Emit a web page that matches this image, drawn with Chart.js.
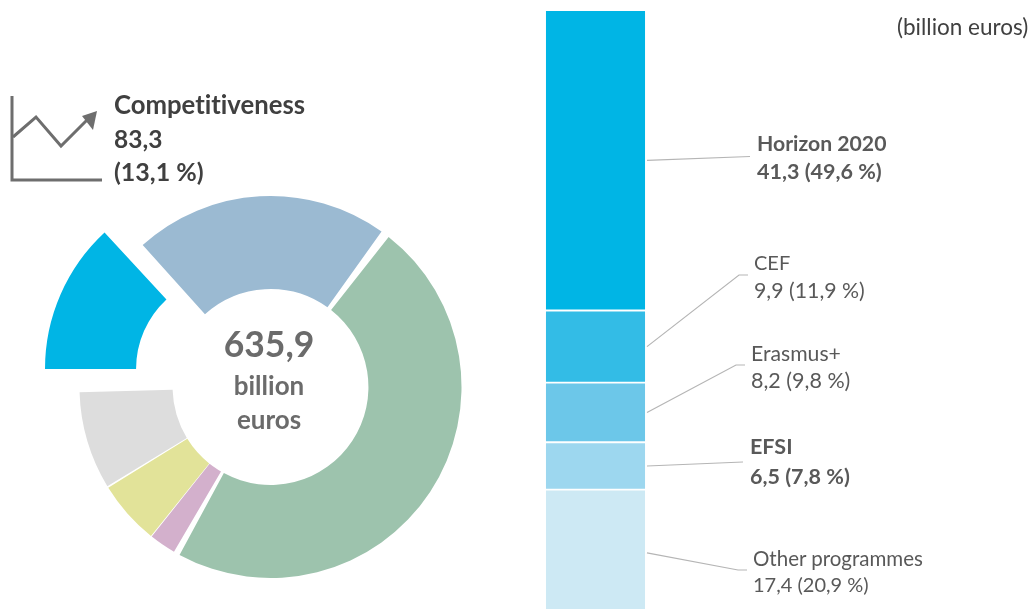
<!DOCTYPE html>
<html>
<head>
<meta charset="utf-8">
<title>Competitiveness</title>
<script src="https://cdn.jsdelivr.net/npm/chart.js@4/dist/chart.umd.js"></script>
<style>
html, body { margin: 0; padding: 0; background: #fff; width: 1030px; height: 609px; overflow: hidden; }
body { position: relative; font-family: Lato, "Open Sans", sans-serif; font-variant-ligatures: none; }
canvas { position: absolute; left: 0; top: 0; }
.t { position: absolute; white-space: nowrap; transform: translateY(-50%); line-height: 1; }
svg { position: absolute; left: 0; top: 0; }
</style>
</head>
<body>
<canvas id="bars"></canvas>
<canvas id="donut"></canvas>
<svg width="110" height="190">
  <polyline points="12,96 12,180 102,180" fill="none" stroke="#6e6e6e" stroke-width="3"/>
  <polyline points="13,137 36,117 61,146 90,117" fill="none" stroke="#6e6e6e" stroke-width="3"/>
  <polygon points="97,111 82,116 93,130" fill="#6e6e6e"/>
</svg>
<div id="labels"></div>

<script>
// headings: billion euros (only Competitiveness is printed)
const headingNames = ['Competitiveness', 'Cohesion', 'Natural resources', 'Security', 'Global', 'Administration'];
const headingValues = [83.3, 139.9, 307.1, 14.6, 35.0, 55.9];
const headingColors = ['#00b5e5', '#9bbad2', '#9dc3ad', '#d3b0cc', '#e2e399', '#dddddd'];

// breakdown of Competitiveness
const programmes = ['Horizon 2020', 'CEF', 'Erasmus+', 'EFSI', 'Other programmes'];
const programmeValues = [41.3, 9.9, 8.2, 6.5, 17.4];
const programmeColors = ['#00b5e5', '#33bce6', '#6cc7e9', '#9dd7ef', '#cde9f4'];

// where each leader goes after leaving its bar
const leaderEnds = [
    [[750, 156.5]],
    [[739, 275], [748, 275]],
    [[736, 365], [745, 365]],
    [[743, 462]],
    [[738, 570], [747, 570]]
];

const texts = [
    ['(billion euros)', 897, 27, 22.5, 400, '#404040'],
    ['Competitiveness', 114, 105, 25.7, 700, '#404040'],
    ['83,3', 114, 139, 24.5, 700, '#404040'],
    ['(13,1 %)', 114, 171, 25, 700, '#404040'],
    ['635,9', 269, 344, 35.5, 700, '#6b6b6b', true],
    ['billion', 269, 385, 26, 700, '#6b6b6b', true],
    ['euros', 269, 419, 26, 700, '#6b6b6b', true],
    ['Horizon 2020', 757, 144, 21.2, 700, '#595959'],
    ['41,3 (49,6 %)', 757, 172, 21.5, 700, '#595959'],
    ['CEF', 754, 262, 20, 400, '#595959'],
    ['9,9 (11,9 %)', 754, 291, 21.3, 400, '#595959'],
    ['Erasmus+', 751, 354, 21.2, 400, '#595959'],
    ['8,2 (9,8 %)', 751, 381, 21.5, 400, '#595959'],
    ['EFSI', 750, 447, 21.5, 700, '#595959'],
    ['6,5 (7,8 %)', 750, 477, 21.5, 700, '#595959'],
    ['Other programmes', 753, 558, 20.5, 400, '#595959'],
    ['17,4 (20,9 %)', 753, 584, 20, 400, '#595959']
];

const labelBox = document.getElementById('labels');
texts.forEach(([str, x, y, size, weight, color, centered]) => {
    const el = document.createElement('div');
    el.className = 't';
    el.textContent = str;
    el.style.left = x + 'px';
    el.style.top = y + 'px';
    el.style.fontSize = size + 'px';
    el.style.fontWeight = weight;
    el.style.color = color;
    if (centered) el.style.transform = 'translate(-50%, -50%)';
    labelBox.appendChild(el);
});

function sizeCanvas(id, w, h) {
    const c = document.getElementById(id);
    c.style.width = w + 'px';
    c.style.height = h + 'px';
    c.width = w;
    c.height = h;
    return c;
}

// pull the first slice out of the ring, it is also a bit smaller than the others
const explodeFirst = {
    id: 'explodeFirst',
    afterDatasetsUpdate(chart) {
        const arcs = chart.getDatasetMeta(0).data;
        const arc = arcs[0];
        arc.x -= 39.5;
        arc.y -= 18;
        arc.outerRadius -= 2;
        arc.options = { ...arc.options, spacing: 0 }; // keeps its lower edge level
        arcs[arcs.length - 1].endAngle -= 0.022; // wider gap under the pulled slice
    }
};

new Chart(sizeCanvas('donut', 541, 609), {
    type: 'doughnut',
    data: {
        labels: headingNames,
        datasets: [{
            data: headingValues,
            backgroundColor: headingColors,
            borderWidth: 0,
            spacing: 6
        }]
    },
    options: {
        responsive: false,
        animation: false,
        rotation: -90,
        radius: 188,
        cutout: '50.5%',
        layout: { padding: { top: 165 } },
        plugins: { legend: { display: false }, tooltip: { enabled: false } }
    },
    plugins: [explodeFirst]
});

const leaders = {
    id: 'leaders',
    afterDraw(chart) {
        const ctx = chart.ctx;
        ctx.save();
        ctx.strokeStyle = '#b5b5b5';
        ctx.lineWidth = 1.2;
        chart.data.datasets.forEach((ds, i) => {
            const bar = chart.getDatasetMeta(i).data[0];
            ctx.beginPath();
            ctx.moveTo(bar.x + bar.width / 2 + 1, (bar.y + bar.base) / 2);
            leaderEnds[i].forEach(p => ctx.lineTo(p[0], p[1]));
            ctx.stroke();
        });
        ctx.restore();
    }
};

new Chart(sizeCanvas('bars', 1030, 609), {
    type: 'bar',
    data: {
        labels: ['Competitiveness'],
        datasets: programmes.map((name, i) => ({
            label: name,
            data: [programmeValues[i]],
            backgroundColor: programmeColors[i],
            borderColor: '#fff',
            borderWidth: 1.3,
            borderSkipped: false,
            barPercentage: 1,
            categoryPercentage: 1
        }))
    },
    options: {
        responsive: false,
        animation: false,
        layout: { padding: { left: 545, right: 384, top: 10, bottom: 0 } },
        scales: {
            x: { stacked: true, display: false },
            // the tall last block runs off the bottom of the page
            y: { stacked: true, display: false, reverse: true, min: 0, max: 82.3 }
        },
        plugins: { legend: { display: false }, tooltip: { enabled: false } }
    },
    plugins: [leaders]
});
</script>
</body>
</html>
